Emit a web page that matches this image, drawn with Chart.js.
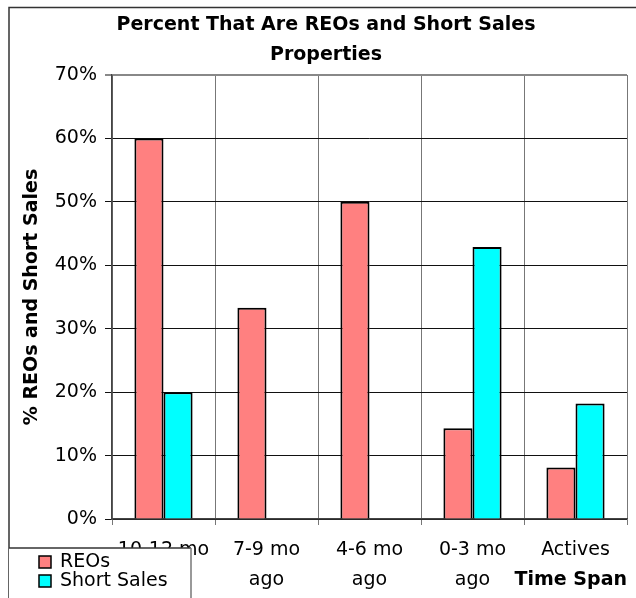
<!DOCTYPE html>
<html>
<head>
<meta charset="utf-8">
<script src="https://cdn.jsdelivr.net/npm/chart.js@4/dist/chart.umd.min.js"></script>
<style>
html, body { margin: 0; padding: 0; background: #fff; }
#wrap { width: 636px; height: 598px; position: relative; }
</style>
</head>
<body>
<div id="wrap"><canvas id="chart"></canvas></div>
<script>
const categories = [['10-12 mo', 'ago'], ['7-9 mo', 'ago'], ['4-6 mo', 'ago'], ['0-3 mo', 'ago'], 'Actives'];
const reos = [60, 33.3, 50, 14.3, 8.1];
const shortSales = [20, 0, 0, 42.9, 18.2];
const yTicks = [0, 10, 20, 30, 40, 50, 60, 70];

const FONT = 'DejaVu Sans';

// frame round the chart and the boxed legend in the lower left
const frameAndLegend = {
  id: 'frameAndLegend',
  beforeDraw(chart) {
    const ctx = chart.ctx;
    ctx.save();
    ctx.strokeStyle = '#333';
    ctx.lineWidth = 1.5;
    ctx.beginPath();
    ctx.moveTo(9, 700);
    ctx.lineTo(9, 7.5);
    ctx.lineTo(700, 7.5);
    ctx.stroke();
    ctx.restore();
  },
  afterDraw(chart) {
    const ctx = chart.ctx;
    ctx.save();
    ctx.fillStyle = '#fff';
    ctx.fillRect(9, 548, 182, 60);
    ctx.lineWidth = 1.5;
    ctx.strokeStyle = '#333';
    ctx.beginPath();
    ctx.moveTo(9, 548);
    ctx.lineTo(191, 548);
    ctx.stroke();
    ctx.strokeStyle = '#777';
    ctx.beginPath();
    ctx.moveTo(191, 548);
    ctx.lineTo(191, 600);
    ctx.stroke();
    ctx.font = '19px "' + FONT + '"';
    ctx.textBaseline = 'middle';
    chart.data.datasets.forEach((ds, i) => {
      const y = 562 + i * 19;
      ctx.fillStyle = ds.backgroundColor;
      ctx.fillRect(39, y - 6, 12, 12);
      ctx.strokeStyle = '#000';
      ctx.lineWidth = 1.5;
      ctx.strokeRect(39, y - 6, 12, 12);
      ctx.fillStyle = '#000';
      ctx.fillText(ds.label, 60, y);
    });
    ctx.restore();
  }
};

new Chart(document.getElementById('chart'), {
  type: 'bar',
  data: {
    labels: categories,
    datasets: [
      { label: 'REOs', data: reos, backgroundColor: '#FF8080', borderColor: '#000', borderWidth: 2 },
      { label: 'Short Sales', data: shortSales, backgroundColor: '#00FFFF', borderColor: '#000', borderWidth: 2 }
    ]
  },
  options: {
    responsive: true,
    maintainAspectRatio: false,
    animation: false,
    layout: { padding: { left: 16, right: 0, top: 0, bottom: 0 } },
    datasets: { bar: { categoryPercentage: 0.565, barPercentage: 1 } },
    plugins: {
      legend: { display: false },
      tooltip: { enabled: false },
      title: {
        display: true,
        text: ['Percent That Are REOs and Short Sales', 'Properties'],
        color: '#000',
        font: { family: FONT, size: 19, weight: 'bold', lineHeight: '30px' },
        padding: { top: 10, bottom: 5 }
      }
    },
    scales: {
      x: {
        grid: {
          color: '#777',
          lineWidth: c => (c.index === categories.length ? 2 : 1),
          tickLength: 6,
          offset: true
        },
        border: { display: true, color: '#444', width: 1.5 },
        ticks: {
          color: '#000',
          padding: 10,
          maxRotation: 0,
          autoSkip: false,
          font: { family: FONT, size: 19, lineHeight: '30px' }
        },
        title: {
          display: true,
          text: 'Time Span',
          align: 'end',
          color: '#000',
          font: { family: FONT, size: 19, weight: 'bold' },
          padding: { top: 0, bottom: 7 }
        },
        afterFit(scale) { scale.height = 79; }
      },
      y: {
        min: yTicks[0],
        max: yTicks[yTicks.length - 1],
        afterBuildTicks(scale) { scale.ticks = yTicks.map(v => ({ value: v })); },
        grid: {
          color: c => (c.tick && c.tick.value === yTicks[yTicks.length - 1] ? '#888' : '#111'),
          lineWidth: c => (c.tick && c.tick.value === yTicks[yTicks.length - 1] ? 2 : 1),
          tickLength: 7
        },
        border: { display: true, color: '#444', width: 1.5 },
        ticks: {
          color: '#000',
          padding: 8,
          font: { family: FONT, size: 19 },
          callback: v => v + '%'
        },
        title: {
          display: true,
          text: '% REOs and Short Sales',
          color: '#000',
          font: { family: FONT, size: 19, weight: 'bold' },
          padding: { top: 5, bottom: 0 }
        },
        afterFit(scale) { scale.width = 96; }
      },
      // spacer on the right so the plot ends short of the edge, as in the original
      spacer: {
        position: 'right',
        display: true,
        grid: { display: false },
        border: { display: false },
        ticks: { display: false },
        afterFit(scale) { scale.width = 9; }
      }
    }
  },
  plugins: [frameAndLegend]
});
</script>
</body>
</html>
